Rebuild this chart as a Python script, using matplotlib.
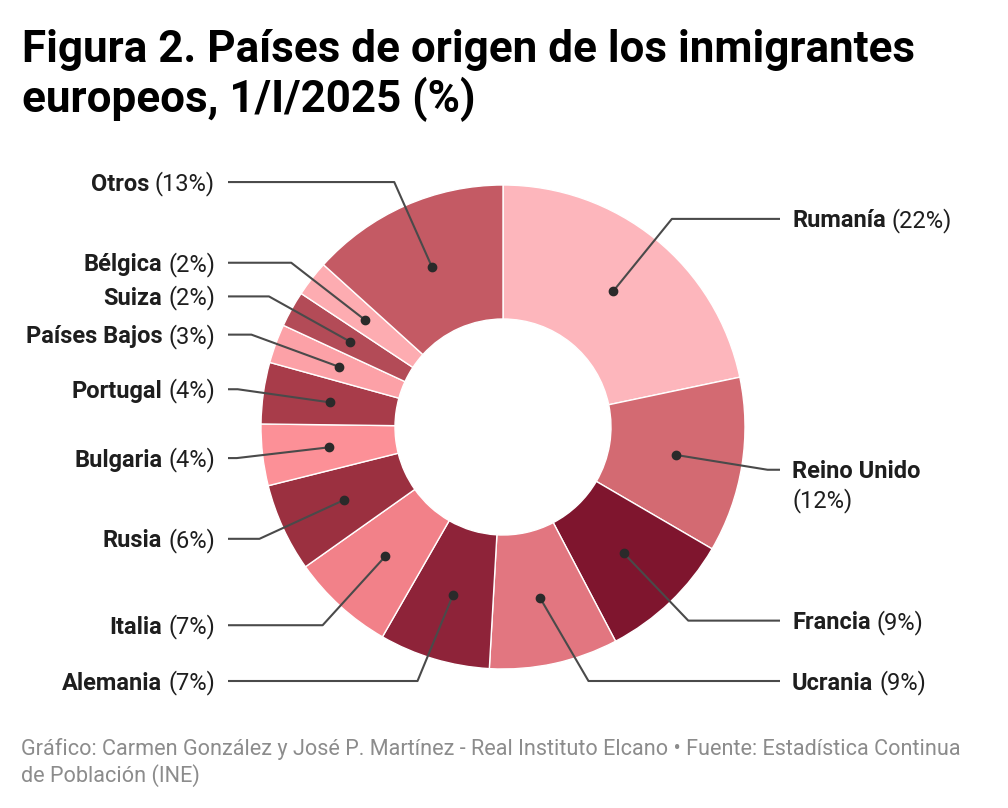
import numpy as np
import matplotlib
matplotlib.use('Agg')
import matplotlib.pyplot as plt

plt.rcParams['font.family'] = ['Roboto', 'DejaVu Sans']

# data
paises = ['Rumanía', 'Reino Unido', 'Francia', 'Ucrania', 'Alemania', 'Italia',
          'Rusia', 'Bulgaria', 'Portugal', 'Países Bajos', 'Suiza', 'Bélgica', 'Otros']
valores = [21.7, 11.7, 8.9, 8.6, 7.4, 6.9, 5.9, 4.1, 4.1, 2.6, 2.4, 2.4, 13.3]
etiquetas_pct = [22, 12, 9, 9, 7, 7, 6, 4, 4, 3, 2, 2, 13]
colores = ['#fdb6bc', '#d36a72', '#7f152e', '#e27680', '#8e2339', '#f28189',
           '#9b3040', '#fc9097', '#a83c4a', '#fca1a7', '#b34b57', '#fdacb1', '#c45a64']
dos_lineas = ['Reino Unido']

titulo = ['Figura 2. Países de origen de los inmigrantes', 'europeos, 1/I/2025 (%)']
fuente = ['Gráfico: Carmen González y José P. Martínez - Real Instituto Elcano • Fuente: Estadística Continua',
          'de Población (INE)']

W, H = 1008, 808
fig = plt.figure(figsize=(W / 100, H / 100), dpi=100)
ax = fig.add_axes([0, 0, 1, 1])

# donut geometry in pixels (y up)
cx, cy = 503, H - 427
R, r_in = 242, 108
wedges, _ = ax.pie(valores, colors=colores, startangle=90, counterclock=False,
                   center=(cx, cy), radius=R,
                   wedgeprops=dict(width=R - r_in, edgecolor='white', linewidth=1))
ax.set_xlim(0, W)
ax.set_ylim(0, H)
ax.set_aspect('equal')
ax.axis('off')

fig.canvas.draw()
rend = fig.canvas.get_renderer()

r_dot, r_elb = 175, 268
y_min = H - 681          # lowest label row
x_left_line, x_left_txt = 228, 215
x_right_line, x_right_txt = 780, 792
fs = 17
col_txt = '#1e1e1e'
col_line = '#4a4a4a'

for w, nombre, pct in zip(wedges, paises, etiquetas_pct):
    ang = np.deg2rad((w.theta1 + w.theta2) / 2)
    dx, dy = cx + r_dot * np.cos(ang), cy + r_dot * np.sin(ang)
    ey = max(cy + r_elb * np.sin(ang), y_min)
    derecha = np.cos(ang) > 0
    off = np.sqrt(max(r_elb ** 2 - (ey - cy) ** 2, 0))
    ex = cx + off if derecha else cx - off
    xl = x_right_line if derecha else x_left_line
    ax.plot([dx, ex, xl], [dy, ey, ey], color=col_line, lw=1.5, solid_capstyle='butt', zorder=3)
    ax.plot(dx, dy, 'o', color='#2a2a2a', ms=6, zorder=4)
    base = ey - 8.5
    ptxt = f'({pct}%)'
    if nombre in dos_lineas:
        ax.text(x_right_txt, base, nombre, fontsize=fs, fontweight='bold', color=col_txt, va='baseline', ha='left')
        ax.text(x_right_txt, base - 29, ptxt, fontsize=fs, color=col_txt, va='baseline', ha='left')
    elif derecha:
        t = ax.text(x_right_txt, base, nombre, fontsize=fs, fontweight='bold', color=col_txt, va='baseline', ha='left')
        bb = t.get_window_extent(rend)
        ax.text(bb.x1 + 6, base, ptxt, fontsize=fs, color=col_txt, va='baseline', ha='left')
    else:
        t = ax.text(x_left_txt, base, ptxt, fontsize=fs, color=col_txt, va='baseline', ha='right')
        bb = t.get_window_extent(rend)
        ax.text(bb.x0 - 6, base, nombre, fontsize=fs, fontweight='bold', color=col_txt, va='baseline', ha='right')

# title
ax.text(22, H - 62, titulo[0], fontsize=31.7, fontweight='bold', color='black', va='baseline', ha='left')
ax.text(22, H - 112, titulo[1], fontsize=31.7, fontweight='bold', color='black', va='baseline', ha='left')

# footer
ax.text(21, H - 755, fuente[0], fontsize=15.6, color='#8c8c8c', va='baseline', ha='left')
ax.text(21, H - 782, fuente[1], fontsize=15.6, color='#8c8c8c', va='baseline', ha='left')

fig.savefig('out.png', dpi=100, facecolor='white')
